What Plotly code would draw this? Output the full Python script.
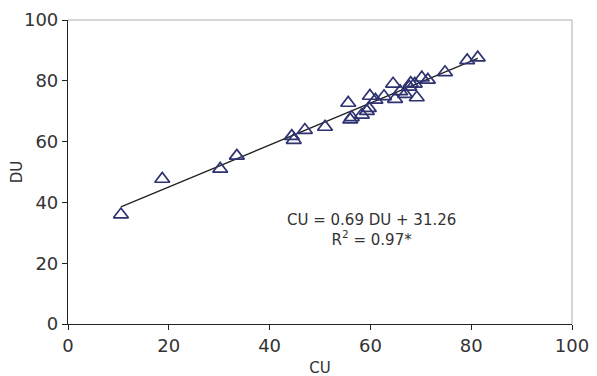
import plotly.graph_objects as go

cu = [10.5, 18.7, 30.2, 33.5, 44.4, 44.8, 47.0, 51.0, 55.6, 56.0, 56.3, 58.3, 59.3, 59.7,
      59.9, 61.0, 62.7, 64.5, 64.9, 65.9, 66.9, 67.7, 68.0, 68.8, 69.2, 70.2, 71.4, 74.8,
      79.2, 81.3]
du = [36.0, 47.7, 51.0, 55.3, 61.8, 60.5, 63.8, 64.8, 72.7, 67.2, 68.0, 68.8, 70.0, 71.0,
      75.0, 73.7, 74.9, 79.0, 74.0, 76.5, 75.6, 78.0, 79.2, 79.0, 74.5, 81.0, 80.3, 82.8,
      86.7, 87.6]

slope = 0.69
intercept = 31.26
fit_x = [min(cu), max(cu)]
fit_y = [slope * v + intercept for v in fit_x]

font = "DejaVu Sans"
txt = "#333333"

fig = go.Figure()
fig.add_trace(go.Scatter(x=fit_x, y=fit_y, mode="lines",
                         line=dict(color="#222222", width=1.3), showlegend=False))
fig.add_trace(go.Scatter(x=cu, y=du, mode="markers",
                         marker=dict(symbol="triangle-up-open", size=13,
                                     color="#2e3270", line=dict(width=1.7, color="#2e3270")),
                         showlegend=False))

fig.add_annotation(x=60.2, y=31.0, xref="x", yref="y", showarrow=False,
                   text="CU = 0.69 DU + 31.26<br>R<sup>2</sup> = 0.97*",
                   font=dict(family=font, size=15, color=txt), align="center")

# light top/right border
fig.add_shape(type="line", xref="paper", yref="paper", x0=0, x1=1, y0=1, y1=1,
              line=dict(color="#aaaaaa", width=1))
fig.add_shape(type="line", xref="paper", yref="paper", x0=1, x1=1, y0=0, y1=1,
              line=dict(color="#aaaaaa", width=1))

axis_common = dict(range=[0, 100], tickvals=[0, 20, 40, 60, 80, 100],
                   showgrid=False, zeroline=False, showline=True, automargin=False,
                   linecolor="#222222", linewidth=1.2,
                   ticks="outside", ticklen=5, tickcolor="#222222", tickwidth=1,
                   tickfont=dict(family=font, size=18, color=txt))

fig.update_xaxes(**axis_common, title=dict(text="CU", standoff=7,
                 font=dict(family=font, size=15, color=txt)))
fig.update_yaxes(**axis_common, title=dict(text="DU", standoff=9,
                 font=dict(family=font, size=15, color=txt)))

# page body adds an 8px offset, so margins compensate for it
fig.update_layout(width=597, height=376, margin=dict(l=60, r=33, t=12, b=60),
                  plot_bgcolor="white", paper_bgcolor="white")

fig.write_html("out.html")
